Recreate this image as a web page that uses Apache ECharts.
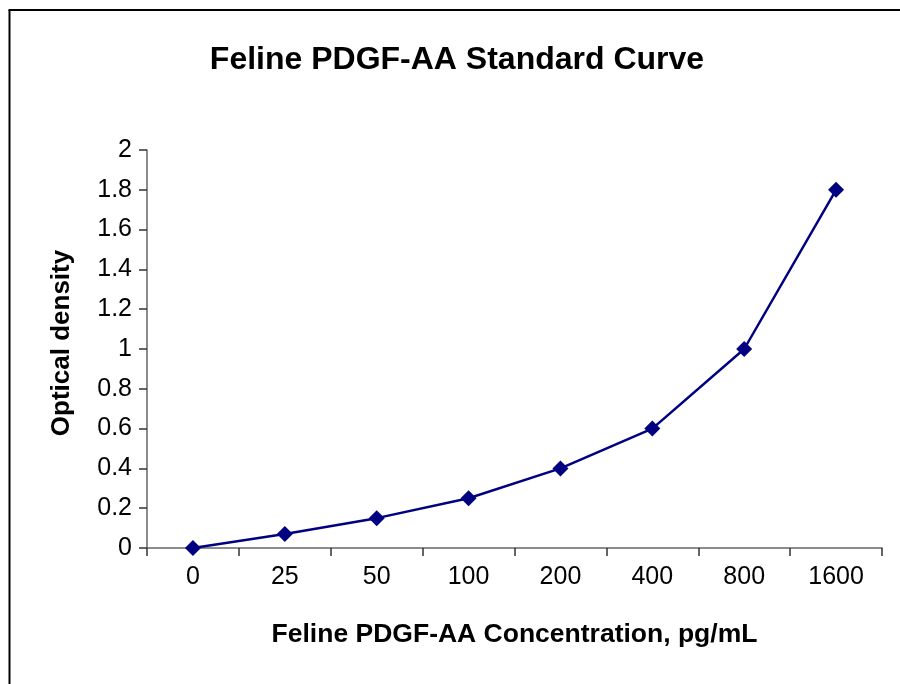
<!DOCTYPE html>
<html><head><meta charset="utf-8">
<script src="https://cdn.jsdelivr.net/npm/echarts@6/dist/echarts.min.js"></script>
<style>html,body{margin:0;padding:0;background:#fff}#c{width:900px;height:684px}</style>
</head><body><div id="c"></div>
<script>
const categories = ['0','25','50','100','200','400','800','1600'];
const opticalDensity = [0, 0.07, 0.15, 0.25, 0.4, 0.6, 1.0, 1.8];
const yTicks = {min: 0, max: 2, interval: 0.2};
const titleText = 'Feline PDGF-AA Standard Curve';
const xName = 'Feline PDGF-AA Concentration, pg/mL';
const yName = 'Optical density';

const chart = echarts.init(document.getElementById('c'), null, {renderer: 'canvas'});
const font = 'Arial, "Liberation Sans", sans-serif';
chart.setOption({
  animation: false,
  title: {
    text: titleText, left: 452, top: 39, textAlign: 'center',
    textStyle: {fontFamily: font, fontWeight: 'bold', fontSize: 32, color: '#000'}
  },
  graphic: [
    {type: 'line', shape: {x1: 9.5, y1: 10, x2: 9.5, y2: 684}, style: {stroke: '#000', lineWidth: 2}},
    {type: 'line', shape: {x1: 8.5, y1: 10, x2: 900, y2: 10}, style: {stroke: '#000', lineWidth: 2}}
  ],
  grid: {left: 147, right: 18, top: 150, bottom: 136, containLabel: false},
  xAxis: {
    type: 'category', data: categories, boundaryGap: true,
    name: xName, nameLocation: 'middle', nameGap: 73,
    nameTextStyle: {fontFamily: font, fontWeight: 'bold', fontSize: 26.5, color: '#000'},
    axisLine: {lineStyle: {color: '#666', width: 1.5}},
    axisTick: {show: true, length: 8, inside: false, alignWithLabel: false, lineStyle: {color: '#333', width: 1.5}},
    axisLabel: {fontFamily: font, fontSize: 25, color: '#000', margin: 17},
    splitLine: {show: false}
  },
  yAxis: {
    type: 'value', min: yTicks.min, max: yTicks.max, interval: yTicks.interval,
    name: yName, nameLocation: 'middle', nameGap: 72, nameRotate: 90,
    nameTextStyle: {fontFamily: font, fontWeight: 'bold', fontSize: 26, color: '#000', padding: [0, 0, 0, 12]},
    axisLine: {show: true, lineStyle: {color: '#666', width: 1.5}},
    axisTick: {show: true, length: 8, inside: false, lineStyle: {color: '#333', width: 1.5}},
    axisLabel: {fontFamily: font, fontSize: 25, color: '#000', margin: 15},
    splitLine: {show: false}
  },
  series: [{
    type: 'line', data: opticalDensity,
    symbol: 'diamond', symbolSize: 16,
    lineStyle: {color: '#000080', width: 2.5},
    itemStyle: {color: '#000080'}
  }]
});
</script></body></html>
